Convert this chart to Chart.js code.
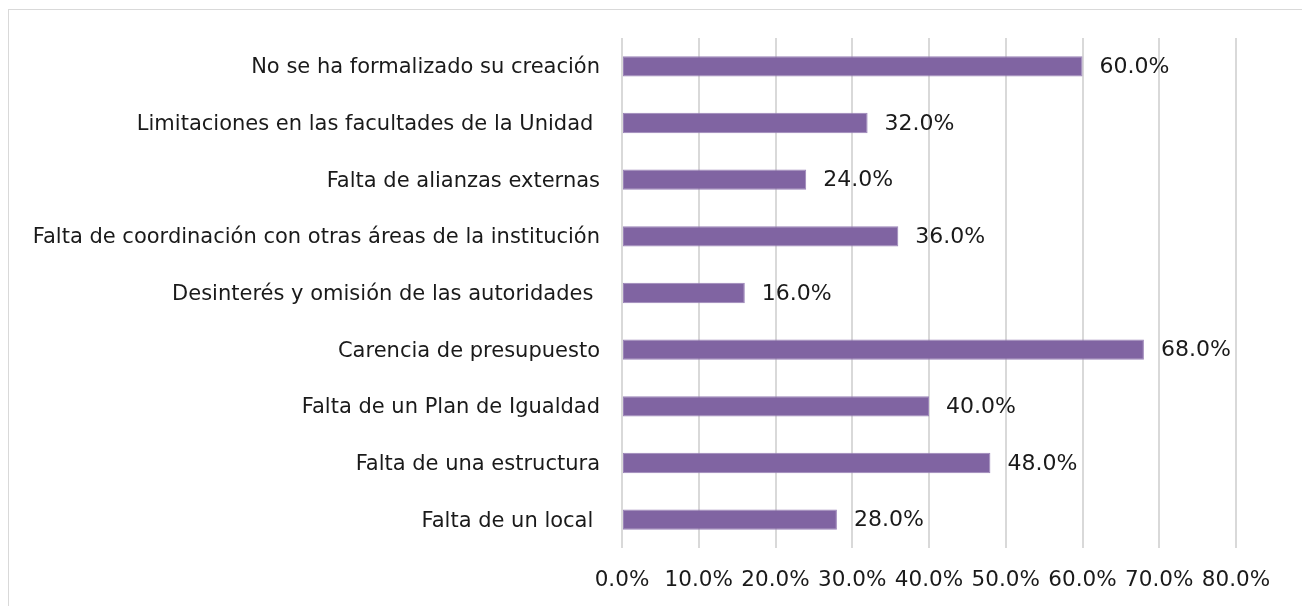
<!DOCTYPE html>
<html>
<head>
<meta charset="utf-8">
<script src="https://cdn.jsdelivr.net/npm/chart.js@4"></script>
<style>
  html, body { margin: 0; padding: 0; background: #fff; }
  body { width: 1302px; height: 606px; position: relative; overflow: hidden; }
  .frame { position: absolute; left: 8px; top: 9px; width: 1400px; height: 700px; border: 1px solid #d9d9d9; }
  .wrap { position: absolute; left: 0; top: 0; width: 1302px; height: 606px; }
</style>
</head>
<body>
<div class="frame"></div>
<div class="wrap"><canvas id="chart"></canvas></div>
<script>
// categories, top to bottom as in the picture
const categories = [
  'No se ha formalizado su creación',
  'Limitaciones en las facultades de la Unidad ',
  'Falta de alianzas externas',
  'Falta de coordinación con otras áreas de la institución',
  'Desinterés y omisión de las autoridades ',
  'Carencia de presupuesto',
  'Falta de un Plan de Igualdad',
  'Falta de una estructura',
  'Falta de un local '
];
const values = [0.60, 0.32, 0.24, 0.36, 0.16, 0.68, 0.40, 0.48, 0.28];
const xTicks = [0, 0.1, 0.2, 0.3, 0.4, 0.5, 0.6, 0.7, 0.8];

const FONT = "'DejaVu Sans', sans-serif";
const pct = v => (v * 100).toFixed(1) + '%';

// value labels right of each bar
const valueLabels = {
  id: 'valueLabels',
  afterDatasetsDraw(chart) {
    const ctx = chart.ctx;
    const meta = chart.getDatasetMeta(0);
    ctx.save();
    ctx.font = '22px ' + FONT;
    ctx.fillStyle = '#1a1a1a';
    ctx.textAlign = 'left';
    ctx.textBaseline = 'middle';
    meta.data.forEach((bar, i) => {
      ctx.fillText(pct(values[i]), bar.x + 17, bar.y + 1);
    });
    ctx.restore();
  }
};

new Chart(document.getElementById('chart'), {
  type: 'bar',
  data: {
    labels: categories,
    datasets: [{
      data: values,
      backgroundColor: '#8064a2',
      borderColor: '#9b84b8',
      borderWidth: 1,
      borderSkipped: false,
      categoryPercentage: 1,
      barPercentage: 0.36
    }]
  },
  options: {
    indexAxis: 'y',
    responsive: true,
    maintainAspectRatio: false,
    animation: false,
    layout: { padding: { top: 38, right: 66, bottom: 0, left: 0 } },
    plugins: {
      legend: { display: false },
      tooltip: { enabled: false }
    },
    scales: {
      x: {
        min: 0,
        max: 0.8,
        afterBuildTicks(scale) { scale.ticks = xTicks.map(v => ({ value: v })); },
        afterFit(scale) { scale.height = 58; },
        grid: { color: '#d9d9d9', lineWidth: 2, drawTicks: false },
        border: { display: false },
        ticks: {
          color: '#1a1a1a',
          font: { family: FONT, size: 21.5 },
          padding: 20,
          maxRotation: 0,
          autoSkip: false,
          callback: v => pct(v)
        }
      },
      y: {
        afterFit(scale) { scale.width = 622; },
        grid: { display: false, drawTicks: false },
        border: { display: false },
        ticks: {
          color: '#1a1a1a',
          font: { family: FONT, size: 21 },
          padding: 22,
          labelOffset: 1.5,
          autoSkip: false
        }
      }
    }
  },
  plugins: [valueLabels]
});
</script>
</body>
</html>
